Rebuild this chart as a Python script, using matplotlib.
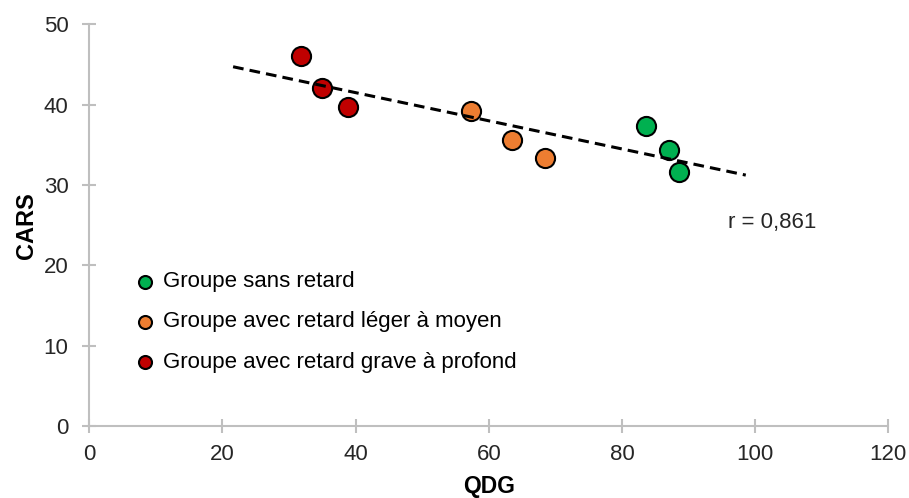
import matplotlib.pyplot as plt
import numpy as np

plt.rcParams['font.family'] = ['Liberation Sans', 'DejaVu Sans']

# QDG / CARS per group
groups = ['Groupe sans retard', 'Groupe avec retard léger à moyen', 'Groupe avec retard grave à profond']
colors = ['#00B050', '#ED7D31', '#C00000']
qdg = [[83.6, 87.1, 88.6], [57.4, 63.5, 68.5], [31.8, 35.0, 38.8]]
cars = [[37.4, 34.4, 31.6], [39.2, 35.6, 33.3], [46.1, 42.1, 39.7]]
trend_range = [21.6, 98.6]
r_text = 'r = 0,861'

fig = plt.figure(figsize=(9.09, 4.98), dpi=100)
ax = fig.add_axes([0.0982, 0.1446, 0.879, 0.8066])

for lab, col, xs, ys in zip(groups, colors, qdg, cars):
    ax.scatter(xs, ys, s=190, color=col, edgecolor='black', linewidth=1.5, label=lab, zorder=3)

# linear trend line
all_x = np.concatenate(qdg)
all_y = np.concatenate(cars)
a, b = np.polyfit(all_x, all_y, 1)
tx = np.array(trend_range)
ax.plot(tx, a * tx + b, color='black', lw=2.2, dashes=(3.5, 2), zorder=4)

ax.text(95.9, 25.3, r_text, fontsize=16, ha='left', va='center', color='#262626')

ax.set_xlim(0, 120)
ax.set_ylim(0, 50)
ax.set_xticks(range(0, 121, 20))
ax.set_yticks(range(0, 51, 10))
ax.set_xlabel('QDG', fontsize=16.5, fontweight='bold', labelpad=7.5)
ax.set_ylabel('CARS', fontsize=17, fontweight='bold', labelpad=4)

for s in ['top', 'right']:
    ax.spines[s].set_visible(False)
for s in ['left', 'bottom']:
    ax.spines[s].set_color('#BFBFBF')
    ax.spines[s].set_linewidth(1.5)
ax.tick_params(direction='inout', length=10, width=1.5, color='#BFBFBF', labelsize=16,
               labelcolor='#262626', pad=10)
ax.tick_params(axis='x', pad=8)

ax.legend(loc='upper left', bbox_to_anchor=(0.056, 0.385), frameon=False, fontsize=16,
          markerscale=0.68, handletextpad=0.3, labelspacing=0.86, borderaxespad=0,
          borderpad=0, handlelength=1.0)

plt.savefig('out.png')
